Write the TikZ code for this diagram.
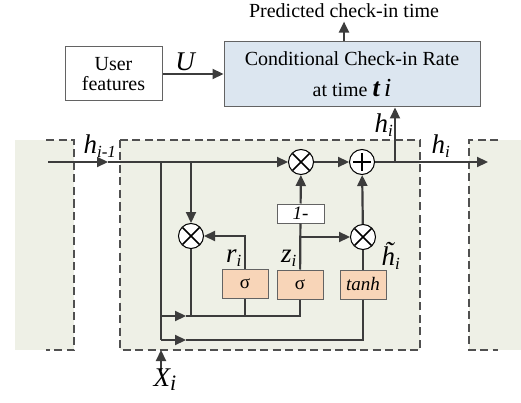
\documentclass[tikz,border=0pt]{standalone}
\usepackage{fontspec}
\setmainfont{Liberation Serif}
\usetikzlibrary{arrows.meta,calc}
\definecolor{lc}{HTML}{3C3C3C}
\definecolor{bgg}{HTML}{EEF0E6}
\definecolor{boxb}{HTML}{DCE6F0}
\definecolor{peach}{HTML}{F8D5B8}
\begin{document}
\begin{tikzpicture}[x=1pt,y=-1pt,
  ln/.style={draw=lc,line width=2.2pt},
  arr/.style={ln,-{Triangle[length=11pt,width=10pt]}},
  dsh/.style={draw=lc!90,line width=1.4pt,dash pattern=on 8pt off 4.5pt},
  mult/.style={circle,draw=black,fill=white,line width=1pt,minimum size=25pt,inner sep=0pt,
    path picture={\draw[line width=1.7pt] (path picture bounding box.center) +(-8.5,-8.5) -- +(8.5,8.5) +(-8.5,8.5) -- +(8.5,-8.5);}},
  addn/.style={circle,draw=black,fill=white,line width=1pt,minimum size=25pt,inner sep=0pt,
    path picture={\draw[line width=1.7pt] (path picture bounding box.center) +(-9,0) -- +(9,0) +(0,-9) -- +(0,9);}},
  gate/.style={draw=lc!80,fill=peach,line width=1pt,minimum width=46pt,minimum height=29pt,inner sep=0pt,font=\fontsize{19}{21}\selectfont},
  lbl/.style={font=\fontsize{27}{29}\selectfont\itshape,inner sep=0pt},
  txt/.style={font=\fontsize{20}{22}\selectfont}
]
\useasboundingbox (0,0) rectangle (521,403);
% backgrounds
\fill[bgg] (15,140) rectangle (74,350);
\fill[bgg] (120,140) rectangle (420,350);
\fill[bgg] (469,140) rectangle (521,350);
\draw[dsh] (46,140) -- (74,140) -- (74,350) -- (46,350);
\draw[dsh] (120,140) rectangle (420,350);
\draw[dsh] (498,140) -- (469,140) -- (469,350) -- (498,350);

% top boxes
\node[txt] (pred) at (344,11) {Predicted check-in time};
\node[draw=lc!80,fill=boxb,line width=1pt,minimum width=256pt,minimum height=65pt,inner sep=0pt] (rate) at (352,74.5) {};
\node[txt] (rt1) at (352,59) {Conditional Check-in Rate};
\node[txt,anchor=base] (rt2) at (352,97) {at time {\fontsize{26}{28}\selectfont\bfseries\itshape t\,}{\fontsize{26}{28}\selectfont\itshape i}};
\node[draw=lc!80,fill=white,line width=1pt,minimum width=97pt,minimum height=54pt,inner sep=0pt,align=center,txt] (user) at (113.5,74) {User\\[-2pt]features};
\draw[arr] (user) -- (user -| rate.west);
\node[lbl] (ulab) at (185,62) {U};
\draw[arr] (rate.north -| pred) -- (pred.south);

% nodes of the cell
\coordinate (hin) at (48,162);
\coordinate (hmid) at (108,162);
\node[mult] (m1) at (301,162) {};
\node[addn] (a1) at (362,162) {};
\coordinate (hout) at (488,162);
\coordinate (jh) at (395,162);
\coordinate (jx) at (161,162);
\coordinate (jr) at (191,162);
\node[mult] (mr) at (191,236) {};
\node[gate] (sr) at (245,284) {σ};
\node[gate] (sz) at (300,284.5) {σ};
\node[gate] (th) at (363,284.5) {\itshape tanh};
\node[draw=lc!80,fill=white,line width=1pt,minimum width=47pt,minimum height=19pt,inner sep=0pt,font=\fontsize{19}{21}\selectfont\itshape] (om) at (300.5,213.5) {1-};
\node[mult] (mh) at (363,237) {};
\coordinate (jz) at (300,237);
\coordinate (xin) at (161,371);
\coordinate (xtop) at (161,350);
\coordinate (l1s) at (161,316);
\coordinate (l1a) at (186,316);
\coordinate (l1e) at (300,316);
\coordinate (l2s) at (161,340);
\coordinate (l2a) at (186,340);
\coordinate (l2e) at (363,340);

% main line
\draw[arr] (hin) -- (hmid);
\draw[arr] (hmid) -- (m1);
\draw[arr] (m1) -- (a1);
\draw[arr] (a1) -- (hout);
\draw[arr] (jh) -- (jh |- rate.south);
% verticals
\draw[ln] (jx) -- (l2s);
\draw[arr] (xin) -- (xtop);
\draw[arr] (jr) -- (mr);
\draw[ln] (mr) -- (mr |- l1s);
\draw[ln] (sr) -- (sr |- l1s);
\draw[ln] (sz) -- (l1e) -- (l1a);
\draw[arr] (l1s) -- (l1a);
\draw[ln] (th) -- (l2e) -- (l2a);
\draw[arr] (l2s) -- (l2a);
\draw[arr] (sr.north) |- (mr.east);
\draw[ln] (sz) -- (om);
\draw[arr] (om) -- (m1);
\draw[arr] (jz) -- (mh);
\draw[ln] (th) -- (mh);
\draw[arr] (mh) -- (a1);

% labels
\node[lbl] (lhm) at (100,146) {h\textsubscript{\fontsize{17}{17}\selectfont i-1}};
\node[lbl] (lhi) at (441,146) {h\textsubscript{\fontsize{17}{17}\selectfont i}};
\node[lbl] (lhu) at (384,125) {h\textsubscript{\fontsize{17}{17}\selectfont i}};
\node[lbl] (lr) at (234,258) {r\textsubscript{\fontsize{17}{17}\selectfont i}};
\node[lbl] (lz) at (289,258) {z\textsubscript{\fontsize{17}{17}\selectfont i}};
\node[lbl] (lht) at (391,256) {\~{h}\textsubscript{\fontsize{17}{17}\selectfont i}};
\node[lbl] (lx) at (165,380) {X{\fontsize{22}{22}\selectfont\raisebox{-4pt}{i}}};
\end{tikzpicture}
\end{document}
